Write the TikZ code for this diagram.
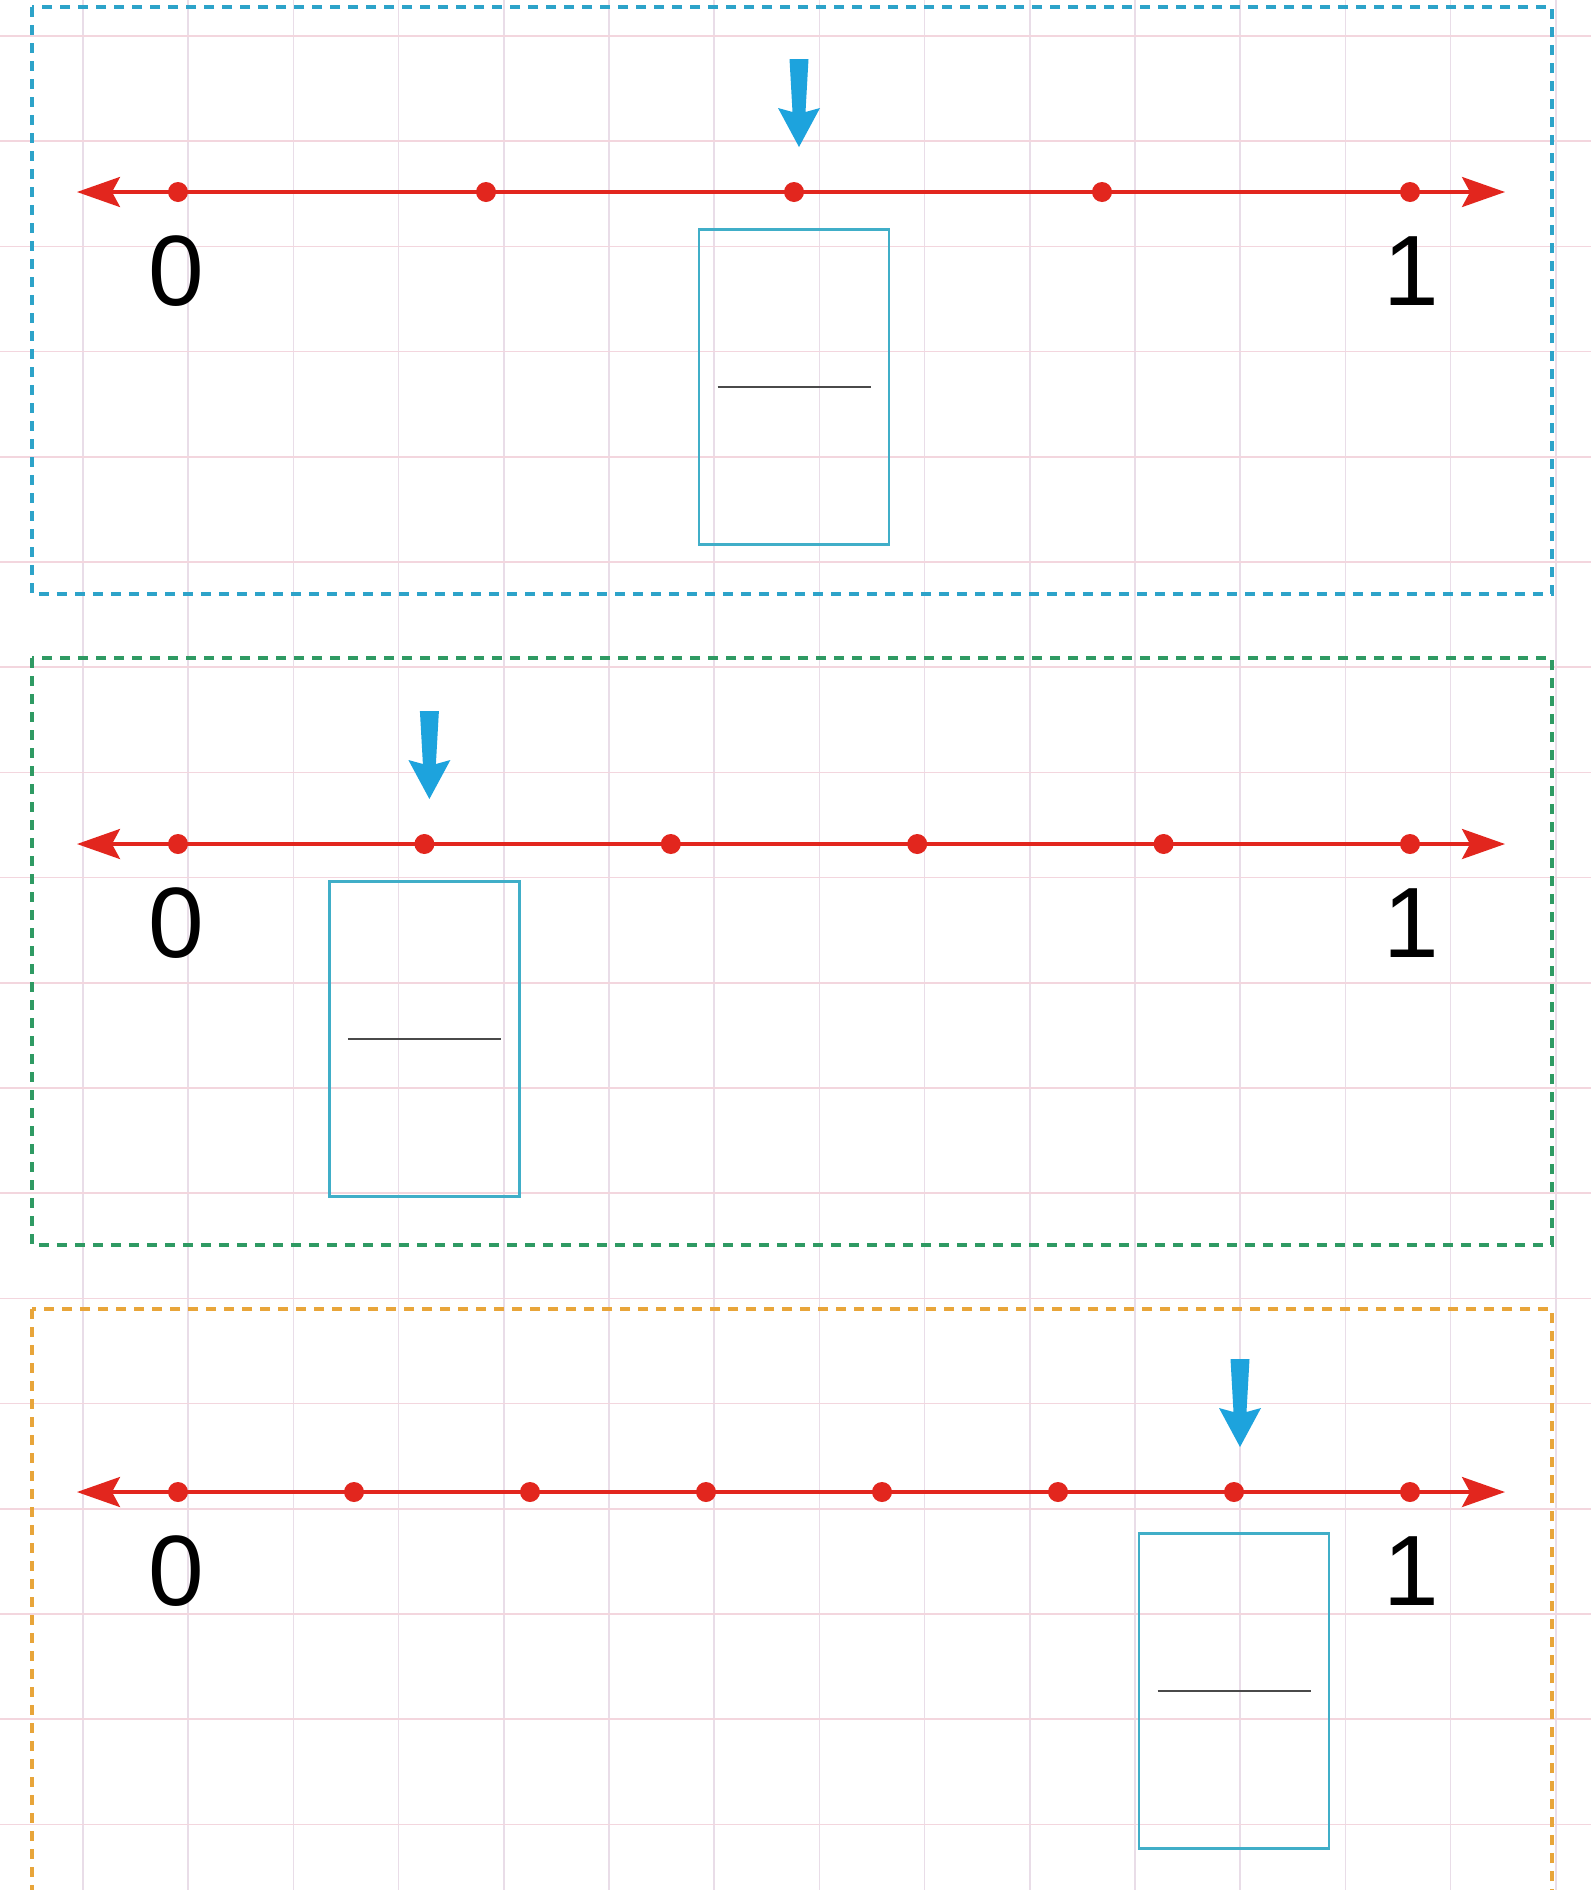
\documentclass[tikz,border=0pt]{standalone}
\usepackage{fontspec}
\setmainfont{Liberation Sans}
\usetikzlibrary{arrows.meta, positioning, calc}
\definecolor{gridpink}{HTML}{F3D6DE}
\definecolor{gridlilac}{HTML}{E9DDE8}
\definecolor{nlred}{HTML}{E2261E}
\definecolor{ptrblue}{HTML}{1DA3DD}
\definecolor{boxcyan}{HTML}{40AEC8}
\definecolor{frameblue}{HTML}{2DA3C9}
\definecolor{framegreen}{HTML}{2F9A63}
\definecolor{frameorange}{HTML}{E8A53A}
\definecolor{fracgrey}{HTML}{4A4A4A}

\begin{document}
\begin{tikzpicture}[
    x=0.5pt, y=-0.5pt,
    node distance=13pt,
    gridv/.style={gridlilac, line width=0.8pt},
    gridh/.style={gridpink, line width=0.8pt},
    frame/.style={dash pattern=on 5pt off 4pt, line width=1.6pt},
    numline/.style={{Stealth[length=21.5pt, width=15pt, inset=4pt]}-{Stealth[length=21.5pt, width=15pt, inset=4pt]},
                    nlred, line width=1.7pt},
    dot/.style={circle, fill=nlred, inner sep=0pt, minimum size=10pt},
    numlab/.style={anchor=base, inner sep=0pt, font=\fontsize{50}{50}\selectfont},
    ansbox/.style={draw=boxcyan, line width=1.2pt, inner sep=0pt,
                   minimum width=95pt, minimum height=157.5pt},
    pointer/.style={fill=ptrblue}]
  \useasboundingbox (0,0) rectangle (1591,1890);
  \clip (0,0) rectangle (1591,1890);
  \fill[white] (0,0) rectangle (1591,1890);
  % squared paper
  \foreach \i in {0,...,14} \draw[gridv] ({83+105.2*\i},0) -- ({83+105.2*\i},1890);
  \foreach \j in {0,...,17} \draw[gridh] (0,{36+105.2*\j}) -- (1591,{36+105.2*\j});
  % panel frames
  \draw[frame, frameblue] (32,7) rectangle (1552,594);
  \draw[frame, framegreen] (32,658) rectangle (1552,1245);
  \draw[frame, frameorange] (32,1309) rectangle (1552,1960);

  % quarters
  \coordinate (aL) at (77,192); \coordinate (aR) at (1505,192);
  \draw[numline] (aL) -- (aR);
  \foreach \i in {0,...,4} \node[dot] (a\i) at ({178+308*\i},192) {};
  \node[numlab] (a0t) at ($(a0)+(-2,113)$) {0};
  \node[numlab] (a4t) at ($(a4)+(1,113)$) {1};
  \node[ansbox, below=13pt of a2] (abox) {\textcolor{fracgrey}{\rule{76.5pt}{1pt}}};
  \fill[pointer] ($(a2)+(5,0)$) +(-9.5,-133) -- +(9.5,-133) -- +(6.5,-80) -- +(21,-84)
    -- +(0,-45) -- +(-21,-84) -- +(-6.5,-80) -- cycle;

  % fifths
  \coordinate (bL) at (77,844); \coordinate (bR) at (1505,844);
  \draw[numline] (bL) -- (bR);
  \foreach \i in {0,...,5} \node[dot] (b\i) at ({178+246.4*\i},844) {};
  \node[numlab] (b0t) at ($(b0)+(-2,113)$) {0};
  \node[numlab] (b5t) at ($(b5)+(1,113)$) {1};
  \node[ansbox, below=13pt of b1] (bbox) {\textcolor{fracgrey}{\rule{76.5pt}{1pt}}};
  \fill[pointer] ($(b1)+(5,0)$) +(-9.5,-133) -- +(9.5,-133) -- +(6.5,-80) -- +(21,-84)
    -- +(0,-45) -- +(-21,-84) -- +(-6.5,-80) -- cycle;

  % sevenths
  \coordinate (cL) at (77,1492); \coordinate (cR) at (1505,1492);
  \draw[numline] (cL) -- (cR);
  \foreach \i in {0,...,7} \node[dot] (c\i) at ({178+176*\i},1492) {};
  \node[numlab] (c0t) at ($(c0)+(-2,113)$) {0};
  \node[numlab] (c7t) at ($(c7)+(1,113)$) {1};
  \node[ansbox, below=15pt of c6] (cbox) {\textcolor{fracgrey}{\rule{76.5pt}{1pt}}};
  \fill[pointer] ($(c6)+(6,0)$) +(-9.5,-133) -- +(9.5,-133) -- +(6.5,-80) -- +(21,-84)
    -- +(0,-45) -- +(-21,-84) -- +(-6.5,-80) -- cycle;
\end{tikzpicture}
\end{document}
